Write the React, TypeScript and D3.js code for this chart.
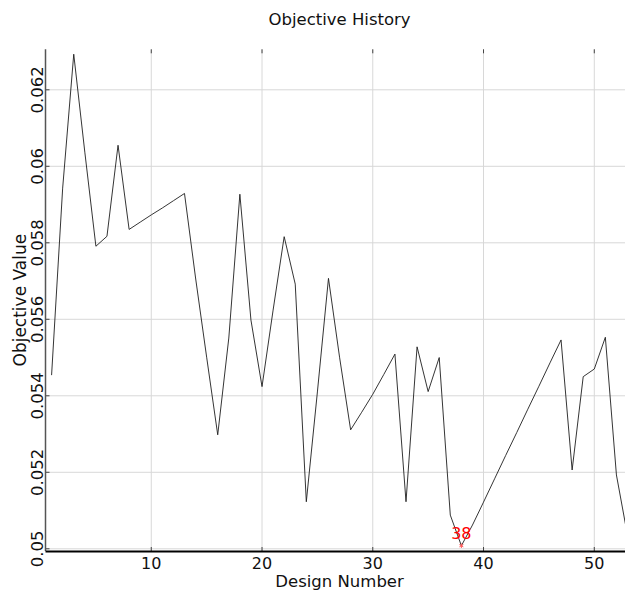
import React from 'react';
import * as d3 from 'd3';

// objective value per design (design numbers start at 1)
const designs = d3.range(1, 54);
const objective = [
  0.05454, 0.05943, 0.06293, 0.06037, 0.05791, 0.05817, 0.06055, 0.05835, 0.05854, 0.05873,
  0.05891, 0.0591, 0.05929, 0.05708, 0.05501, 0.05298, 0.05551, 0.05927, 0.05598, 0.05424,
  0.05624, 0.05816, 0.05692, 0.05123, 0.0541, 0.05707, 0.05501, 0.05311, 0.05357, 0.05404,
  0.05456, 0.05509, 0.05123, 0.05528, 0.05411, 0.055, 0.05088, 0.05008, 0.05062, 0.05122,
  0.05183, 0.05244, 0.05304, 0.05365, 0.05425, 0.05486, 0.05546, 0.05206, 0.0545, 0.0547,
  0.05553, 0.05193, 0.05035,
];
const xTicks = [10, 20, 30, 40, 50];
const yTicks = [0.05, 0.052, 0.054, 0.056, 0.058, 0.06, 0.062];
const yTickLabels = ['0.05', '0.052', '0.054', '0.056', '0.058', '0.06', '0.062'];
const bestDesign = 38;

const W = 625;
const H = 591;
const font = '"DejaVu Sans", Verdana, sans-serif';

export default function App() {
  const left = 45.5, right = 633.6, top = 49.3, bottom = 551;

  const x = d3.scaleLinear().domain([0.45, 53.55]).range([left, right]);
  const y = d3.scaleLinear().domain([0.049942, 0.063059]).range([bottom, top]);

  const pts = designs.map((d, i) => [d, objective[i]] as [number, number]);
  const line = d3.line<[number, number]>()
    .x(d => x(d[0]))
    .y(d => y(d[1]));

  const bx = x(bestDesign);
  const by = y(objective[bestDesign - 1]);
  const star = d3.symbol(d3.symbolAsterisk, 14)();

  return (
    <svg width={W} height={H} style={{ position: 'absolute', left: 0, top: 0 }} fontFamily={font}>
      <rect width={W} height={H} fill="#fff" />

      {/* grid */}
      <g stroke="#d8d8d8" strokeWidth={1}>
        {xTicks.map(t => (
          <line key={'gx' + t} x1={x(t)} x2={x(t)} y1={top} y2={bottom} />
        ))}
        {yTicks.map(t => (
          <line key={'gy' + t} x1={left} x2={right} y1={y(t)} y2={y(t)} />
        ))}
      </g>

      {/* inward ticks */}
      <g stroke="#444" strokeWidth={1}>
        {xTicks.map(t => (
          <g key={'tx' + t}>
            <line x1={x(t)} x2={x(t)} y1={top} y2={top + 4} />
            <line x1={x(t)} x2={x(t)} y1={bottom} y2={bottom - 4} />
          </g>
        ))}
        {yTicks.map(t => (
          <line key={'ty' + t} x1={left} x2={left + 4} y1={y(t)} y2={y(t)} />
        ))}
      </g>

      <path d={line(pts) || ''} fill="none" stroke="#1e1e1e" strokeWidth={0.9} />

      {/* best design marker */}
      <path d={star || ''} transform={`translate(${bx},${by})`} fill="none" stroke="#ff5555" strokeWidth={1} />
      <text x={bx} y={by - 7} textAnchor="middle" fill="#ff0000" fontSize={16}>{bestDesign}</text>

      {/* axes */}
      <line x1={left} x2={left} y1={top} y2={bottom} stroke="#555" strokeWidth={1.5} />
      <line x1={left} x2={W} y1={bottom + 0.5} y2={bottom + 0.5} stroke="#000" strokeWidth={2} />

      {xTicks.map(t => (
        <text key={'lx' + t} x={x(t)} y={569} textAnchor="middle" fontSize={16} fill="#111">{t}</text>
      ))}
      {yTicks.map((t, i) => (
        <text key={'ly' + t} transform={`translate(43.3,${y(t)}) rotate(-90)`} textAnchor="middle" fontSize={16.5} fill="#111">
          {yTickLabels[i]}
        </text>
      ))}

      <text x={(left + right) / 2} y={25} textAnchor="middle" fontSize={16.5} fill="#111">Objective History</text>
      <text x={(left + right) / 2} y={586.5} textAnchor="middle" fontSize={16.5} fill="#111">Design Number</text>
      <text transform={`translate(26,${(top + bottom) / 2}) rotate(-90)`} textAnchor="middle" fontSize={17} fill="#111">
        Objective Value
      </text>
    </svg>
  );
}
